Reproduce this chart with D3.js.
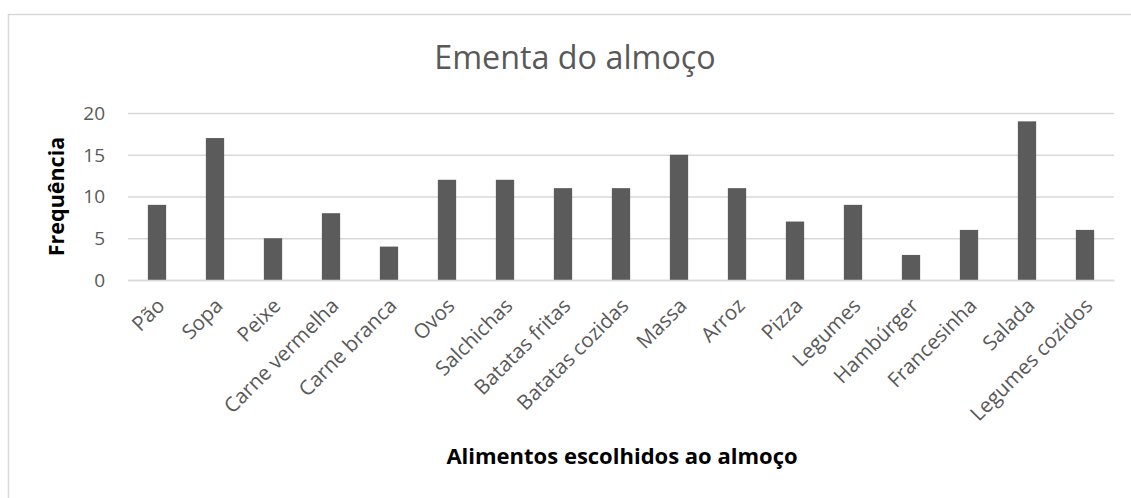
<!DOCTYPE html>
<html>
<head>
<meta charset="utf-8">
<script src="https://cdn.jsdelivr.net/npm/d3@7"></script>
<style>
  html, body { margin: 0; padding: 0; background: #fff; }
  svg { display: block; }
  text { font-family: "Open Sans", "Noto Sans", sans-serif; }
</style>
</head>
<body>
<svg id="chart" width="1131" height="498"></svg>
<script>
// Food categories chosen at lunch and how often each was picked
const categories = ["Pão", "Sopa", "Peixe", "Carne vermelha", "Carne branca", "Ovos",
  "Salchichas", "Batatas fritas", "Batatas cozidas", "Massa", "Arroz", "Pizza",
  "Legumes", "Hambúrger", "Francesinha", "Salada", "Legumes cozidos"];
const frequencies = [9, 17, 5, 8, 4, 12, 12, 11, 11, 15, 11, 7, 9, 3, 6, 19, 6];
const yTicks = [0, 5, 10, 15, 20];

const titleText = "Ementa do almoço";
const yTitle = "Frequência";
const xTitle = "Alimentos escolhidos ao almoço";

const svg = d3.select("#chart");
const W = 1131, H = 498;
const plot = { left: 128, right: 1114, top: 113, bottom: 280 };

// chart frame (runs past the right and bottom edges)
svg.append("rect")
  .attr("x", 8.5).attr("y", 14.5)
  .attr("width", W).attr("height", H)
  .attr("fill", "#fff")
  .attr("stroke", "#d9d9d9").attr("stroke-width", 1.5);

const x = d3.scaleBand()
  .domain(categories)
  .range([plot.left, plot.right])
  .paddingInner(0.685).paddingOuter(0.3425);

const y = d3.scaleLinear()
  .domain([0, 20])
  .range([plot.bottom, plot.top]);

// horizontal gridlines + value labels
const yAxis = d3.axisLeft(y)
  .tickValues(yTicks)
  .tickSize(-(plot.right - plot.left))
  .tickPadding(23)
  .tickFormat(d3.format("d"));

const gy = svg.append("g")
  .attr("transform", `translate(${plot.left},0)`)
  .call(yAxis);
gy.select(".domain").remove();
gy.selectAll(".tick line").attr("stroke", "#d9d9d9").attr("stroke-width", 1.5);
gy.selectAll(".tick text")
  .attr("fill", "#595959")
  .attr("font-size", 19)
  .attr("dy", "0.34em");

// bars
svg.append("g")
  .selectAll("rect")
  .data(categories)
  .join("rect")
  .attr("x", d => x(d))
  .attr("width", x.bandwidth())
  .attr("y", (d, i) => y(frequencies[i]))
  .attr("height", (d, i) => y(0) - y(frequencies[i]))
  .attr("fill", "#5b5b5b");

// category axis with slanted labels
const xAxis = d3.axisBottom(x).tickSize(0).tickPadding(0);
const gx = svg.append("g")
  .attr("transform", `translate(0,${plot.bottom})`)
  .call(xAxis);
gx.select(".domain").attr("stroke", "#d9d9d9").attr("stroke-width", 1.5);
gx.selectAll(".tick text")
  .attr("fill", "#595959")
  .attr("font-size", 20.5)
  .attr("text-anchor", "end")
  .attr("dy", null)
  .attr("y", 0)
  .attr("transform", "translate(9,27) rotate(-45)");

// title
svg.append("text")
  .attr("x", (plot.left + plot.right) / 2 - 46)
  .attr("y", 69)
  .attr("text-anchor", "middle")
  .attr("fill", "#595959")
  .attr("font-size", 32.3)
  .text(titleText);

// axis titles
svg.append("text")
  .attr("transform", `translate(64,${(plot.top + plot.bottom) / 2}) rotate(-90)`)
  .attr("text-anchor", "middle")
  .attr("font-weight", "bold")
  .attr("font-size", 21.5)
  .attr("fill", "#000")
  .text(yTitle);

svg.append("text")
  .attr("x", (plot.left + plot.right) / 2 + 1)
  .attr("y", 464)
  .attr("text-anchor", "middle")
  .attr("font-weight", "bold")
  .attr("font-size", 22)
  .attr("fill", "#000")
  .text(xTitle);
</script>
</body>
</html>
